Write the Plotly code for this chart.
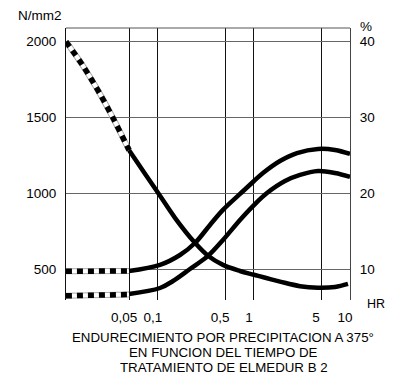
import plotly.graph_objects as go

# ---- data (time in hours; Rm/Rp in N/mm2; A10 in %) ----
tick_vals = [0.05, 0.1, 0.5, 1, 5, 10]
tick_text = ["0,05", "0,1", "0,5", "1", "5", "10"]
left_ticks = [500, 1000, 1500, 2000]
right_ticks = [10, 20, 30, 40]

a10_dash_t = [0.011, 0.01655, 0.0249, 0.0348, 0.05]
a10_dash_v = [40.0, 36.8, 33.1, 29.7, 25.7]
a10_t = [0.05, 0.0732, 0.105, 0.1503, 0.2428, 0.3318, 0.4753, 0.7149, 1.0, 1.866, 3.015, 4.642, 6.979, 9.53]
a10_v = [25.7, 22.6, 19.7, 16.8, 13.5, 11.8, 10.6, 9.8, 9.3, 8.4, 7.8, 7.6, 7.7, 8.1]

rm_dash_t = [0.011, 0.05]
rm_dash_v = [488, 490]
rm_t = [0.05, 0.105, 0.1695, 0.2428, 0.3481, 0.4753, 0.7149, 1.0, 1.241, 1.866, 2.805, 4.642, 6.979, 10.0]
rm_v = [490, 530, 595, 674, 793, 892, 997, 1082, 1135, 1214, 1266, 1293, 1286, 1260]

rp_dash_t = [0.011, 0.05]
rp_dash_v = [327, 335]
rp_t = [0.05, 0.105, 0.1433, 0.2154, 0.3318, 0.4753, 0.7149, 1.0, 1.366, 2.104, 3.015, 4.642, 6.979, 10.0]
rp_v = [339, 378, 424, 503, 589, 694, 826, 924, 1003, 1082, 1122, 1148, 1135, 1109]

FONT = "Liberation Sans, Arial, sans-serif"
Y_LO, Y_HI = 299, 2089

fig = go.Figure()
solid_style = dict(color="black", width=4.5, shape="spline", smoothing=1.0)


def dashed(t, v, axis, spline=False):
    shape = "spline" if spline else "linear"
    # outlined white band with black square dashes on top
    fig.add_trace(go.Scatter(x=t, y=v, mode="lines", yaxis=axis,
                             line=dict(color="#aaa", width=6, shape=shape, smoothing=0.8)))
    fig.add_trace(go.Scatter(x=t, y=v, mode="lines", yaxis=axis,
                             line=dict(color="white", width=4, shape=shape, smoothing=0.8)))
    fig.add_trace(go.Scatter(x=t, y=v, mode="lines", yaxis=axis,
                             line=dict(color="black", width=5.5, dash="6px,5px",
                                       shape=shape, smoothing=0.8)))


dashed(rm_dash_t, rm_dash_v, "y")
dashed(rp_dash_t, rp_dash_v, "y")
dashed(a10_dash_t, a10_dash_v, "y2", spline=True)
fig.add_trace(go.Scatter(x=rm_t, y=rm_v, mode="lines", line=solid_style, yaxis="y"))
fig.add_trace(go.Scatter(x=rp_t, y=rp_v, mode="lines", line=solid_style, yaxis="y"))
fig.add_trace(go.Scatter(x=a10_t, y=a10_v, mode="lines", line=solid_style, yaxis="y2"))

fig.update_layout(
    width=398, height=374,
    margin=dict(l=66, r=48, t=28, b=74),
    paper_bgcolor="white", plot_bgcolor="white",
    showlegend=False,
    font=dict(family=FONT, size=13.5, color="black"),
    xaxis=dict(type="log", range=[-1.958, 1.0], tickvals=tick_vals, ticktext=tick_text,
               showgrid=True, gridcolor="#111", gridwidth=1, zeroline=False,
               showline=False, ticks="", ticklabelshift=-5, ticklabelstandoff=7,
               tickfont=dict(family=FONT, size=13.5)),
    yaxis=dict(range=[Y_LO, Y_HI], tickvals=left_ticks, showgrid=True, gridcolor="#666",
               gridwidth=1, zeroline=False, showline=True, linecolor="#111", linewidth=1,
               ticks="", ticklabelstandoff=6, tickfont=dict(family=FONT, size=13.5)),
    yaxis2=dict(range=[Y_LO / 50, Y_HI / 50], tickvals=right_ticks, overlaying="y", side="right",
                showgrid=False, zeroline=False, showline=True, linecolor="#444", linewidth=1,
                ticks="", ticklabelstandoff=6, tickfont=dict(family=FONT, size=13.5)),
)

# top frame line
fig.add_shape(type="line", xref="paper", yref="paper", x0=0, x1=1, y0=1, y1=1,
              line=dict(color="#555", width=1))


def ann(text, x, y, xref="paper", yref="paper", size=13.5):
    fig.add_annotation(text=text, x=x, y=y, xref=xref, yref=yref, showarrow=False,
                       xanchor="center", yanchor="middle",
                       font=dict(family=FONT, size=size, color="black"))


# px -> paper helpers (plot area x 66..350, y 28..300)
def px(xp):
    return (xp - 66) / 284


def py(yp):
    return (300 - yp) / 272


ann("N/mm2", px(40), py(16))
ann("%", px(366), py(26))
ann("HR", px(376), py(304), size=12.5)
ann("Rm", 1.65, 1312, xref="x", yref="y")
ann("Rp 0,2", 1.96, 872, xref="x", yref="y")
ann("A<sub>10</sub>", 1.95, 462, xref="x", yref="y")

ann("ENDURECIMIENTO POR PRECIPITACION A 375°", px(223), py(337), size=13.3)
ann("EN FUNCION DEL TIEMPO DE", px(223), py(352), size=13.3)
ann("TRATAMIENTO DE ELMEDUR B 2", px(224), py(367), size=13.3)

fig.write_html("out.html", config={"displayModeBar": False},
               post_script="document.body.style.margin='0px';document.body.style.overflow='hidden';")
